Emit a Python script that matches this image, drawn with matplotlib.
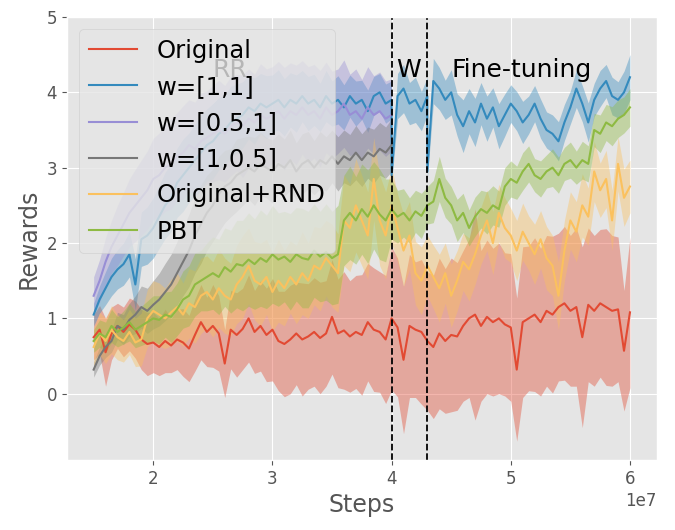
import numpy as np
import matplotlib
matplotlib.use("Agg")
import matplotlib.pyplot as plt

plt.style.use('ggplot')

# steps (x) for the runs
steps_full = np.linspace(1.5e7, 6.0e7, 91)   # whole training
steps_rr = np.linspace(1.5e7, 4.0e7, 51)     # RR phase
steps_w = np.linspace(4.0e7, 4.3e7, 7)       # W phase
steps_ft = np.linspace(4.3e7, 6.0e7, 35)     # fine-tuning

# Original
original_mean = [0.75, 0.85, 0.55, 0.80, 0.90, 0.82, 0.92, 0.85, 0.72, 0.66,
                 0.68, 0.62, 0.70, 0.64, 0.72, 0.68, 0.60, 0.78, 0.95, 0.82,
                 0.90, 0.80, 0.40, 0.85, 0.78, 0.86, 1.00, 0.82, 0.90, 0.78,
                 0.85, 0.70, 0.66, 0.72, 0.80, 0.72, 0.76, 0.82, 0.74, 0.80,
                 1.02, 0.80, 0.84, 0.76, 0.82, 0.78, 0.95, 0.85, 0.82, 0.72,
                 1.00, 0.88, 0.45, 0.90, 0.85, 0.82, 0.70, 0.62, 0.80, 0.70,
                 0.78, 0.76, 0.90, 1.00, 1.05, 0.90, 1.02, 0.95, 1.00, 0.92,
                 0.88, 0.32, 0.95, 1.00, 1.05, 0.95, 1.10, 1.05, 1.15, 1.20,
                 1.10, 1.15, 0.75, 1.18, 1.10, 1.20, 1.15, 1.10, 1.12, 0.57,
                 1.08]
original_std = [0.30, 0.32, 0.45, 0.35, 0.30, 0.33, 0.35, 0.38, 0.40, 0.42,
                0.40, 0.38, 0.42, 0.36, 0.40, 0.45, 0.44, 0.48, 0.50, 0.46,
                0.55, 0.50, 0.45, 0.52, 0.56, 0.54, 0.58, 0.55, 0.60, 0.62,
                0.68, 0.66, 0.70, 0.72, 0.68, 0.75, 0.70, 0.72, 0.74, 0.70,
                0.76, 0.72, 0.78, 0.74, 0.75, 0.80, 0.78, 0.82, 0.80, 0.85,
                0.95, 0.92, 0.98, 0.95, 0.90, 0.96, 0.92, 0.95, 1.00, 0.96,
                1.02, 0.98, 1.00, 1.05, 1.40, 1.00, 1.02, 0.98, 1.00, 0.95,
                0.98, 0.95, 1.00, 0.96, 1.02, 0.98, 1.00, 1.04, 0.98, 1.02,
                1.00, 1.05, 1.20, 1.02, 1.00, 0.98, 1.04, 1.00, 0.96, 0.80,
                1.00]

# Original+RND
rnd_mean = [0.62, 0.80, 0.70, 0.85, 0.75, 0.70, 0.82, 0.68, 0.72, 1.00,
            1.10, 1.05, 1.00, 1.08, 1.15, 1.05, 1.20, 1.15, 1.30, 1.35,
            1.25, 1.40, 1.30, 1.25, 1.45, 1.55, 1.70, 1.50, 1.45, 1.55,
            1.35, 1.50, 1.40, 1.55, 1.45, 1.60, 1.50, 1.70, 1.65, 1.80,
            1.70, 1.60, 2.30, 2.20, 2.50, 2.30, 2.10, 2.85, 2.30, 2.10,
            2.50, 2.20, 1.90, 2.10, 1.60, 1.50, 1.70, 1.55, 1.40, 1.60,
            1.30, 1.50, 1.75, 1.65, 1.85, 2.10, 2.30, 2.00, 2.40, 2.20,
            2.10, 1.90, 2.15, 2.00, 1.85, 2.05, 1.80, 1.70, 1.30, 1.90,
            2.30, 2.15, 2.50, 2.35, 2.95, 2.70, 2.85, 2.30, 3.05, 2.60,
            2.75]
rnd_std = [0.25, 0.28, 0.30, 0.32, 0.30, 0.28, 0.30, 0.32, 0.35, 0.38,
           0.40, 0.42, 0.40, 0.44, 0.45, 0.42, 0.46, 0.48, 0.50, 0.48,
           0.50, 0.52, 0.50, 0.48, 0.52, 0.55, 0.50, 0.52, 0.55, 0.50,
           0.52, 0.55, 0.50, 0.48, 0.52, 0.55, 0.50, 0.52, 0.55, 0.50,
           0.55, 0.52, 0.60, 0.58, 0.62, 0.60, 0.58, 0.55, 0.60, 0.58,
           0.50, 0.45, 0.48, 0.45, 0.42, 0.45, 0.40, 0.42, 0.45, 0.40,
           0.42, 0.40, 0.38, 0.42, 0.40, 0.38, 0.40, 0.42, 0.38, 0.40,
           0.36, 0.40, 0.38, 0.36, 0.40, 0.38, 0.42, 0.40, 0.45, 0.40,
           0.38, 0.40, 0.42, 0.38, 0.40, 0.36, 0.38, 0.40, 0.36, 0.38,
           0.35]

# PBT
pbt_mean = [0.70, 0.80, 0.75, 0.90, 0.82, 0.88, 0.95, 0.85, 0.90, 0.95,
            1.00, 0.98, 1.05, 1.02, 1.12, 1.25, 1.30, 1.45, 1.50, 1.55,
            1.60, 1.55, 1.68, 1.62, 1.72, 1.70, 1.78, 1.72, 1.80, 1.75,
            1.85, 1.78, 1.82, 1.75, 1.85, 1.80, 1.78, 1.90, 1.82, 1.88,
            1.80, 1.85, 2.30, 2.40, 2.30, 2.45, 2.35, 2.50, 2.38, 2.30,
            2.45, 2.35, 2.40, 2.30, 2.42, 2.36, 2.50, 2.55, 2.85, 2.60,
            2.50, 2.30, 2.40, 2.20, 2.35, 2.45, 2.40, 2.50, 2.45, 2.75,
            2.85, 2.80, 2.95, 3.05, 2.90, 2.85, 2.95, 3.00, 2.90, 3.05,
            3.10, 3.00, 3.10, 3.05, 3.50, 3.45, 3.60, 3.55, 3.65, 3.70,
            3.80]
pbt_std = [0.15, 0.18, 0.20, 0.22, 0.20, 0.22, 0.25, 0.24, 0.26, 0.28,
           0.30, 0.32, 0.30, 0.34, 0.35, 0.38, 0.40, 0.42, 0.40, 0.45,
           0.48, 0.50, 0.52, 0.55, 0.58, 0.60, 0.62, 0.60, 0.64, 0.62,
           0.65, 0.62, 0.60, 0.64, 0.62, 0.66, 0.64, 0.62, 0.60, 0.64,
           0.62, 0.65, 0.60, 0.62, 0.58, 0.60, 0.62, 0.58, 0.60, 0.55,
           0.40, 0.35, 0.32, 0.30, 0.28, 0.30, 0.25, 0.28, 0.30, 0.26,
           0.25, 0.28, 0.26, 0.24, 0.26, 0.25, 0.28, 0.26, 0.24, 0.25,
           0.24, 0.22, 0.25, 0.24, 0.22, 0.24, 0.22, 0.25, 0.24, 0.22,
           0.24, 0.22, 0.25, 0.24, 0.22, 0.25, 0.24, 0.26, 0.25, 0.24,
           0.25]

# w=[1,1]  (RR, W, fine-tuning)
w11_rr_mean = [1.05, 1.25, 1.40, 1.55, 1.65, 1.72, 1.85, 1.45, 2.05, 2.10,
               2.20, 2.35, 2.50, 2.60, 2.80, 2.90, 3.00, 3.10, 3.20, 3.30,
               3.35, 3.45, 3.50, 3.60, 3.65, 3.70, 3.80, 3.75, 3.85, 3.80,
               3.85, 3.90, 3.80, 3.90, 3.85, 3.95, 3.85, 3.90, 3.80, 3.95,
               3.85, 3.90, 3.80, 3.95, 3.85, 3.90, 3.75, 3.95, 4.00, 3.85,
               3.90]
w11_rr_std = [0.15, 0.18, 0.22, 0.25, 0.26, 0.28, 0.30, 0.34, 0.36, 0.38,
              0.40, 0.42, 0.44, 0.45, 0.46, 0.48, 0.46, 0.48, 0.50, 0.48,
              0.50, 0.48, 0.46, 0.48, 0.46, 0.44, 0.42, 0.44, 0.40, 0.42,
              0.38, 0.40, 0.38, 0.36, 0.38, 0.34, 0.36, 0.34, 0.32, 0.34,
              0.30, 0.32, 0.30, 0.28, 0.30, 0.26, 0.28, 0.26, 0.25, 0.26,
              0.25]
w11_w_mean = [2.90, 3.95, 4.05, 3.85, 3.90, 3.75, 3.95]
w11_w_std = [0.10, 0.30, 0.32, 0.28, 0.30, 0.26, 0.25]
w11_ft_mean = [2.95, 4.15, 4.05, 3.90, 4.00, 3.70, 3.55, 3.75, 3.60, 3.85,
               3.65, 3.80, 3.55, 3.70, 3.85, 3.75, 3.60, 3.70, 3.85, 3.65,
               3.50, 3.45, 3.35, 3.60, 3.80, 4.05, 3.85, 3.60, 3.90, 4.05,
               4.15, 3.95, 3.90, 4.00, 4.20]
w11_ft_std = [0.10, 0.30, 0.28, 0.26, 0.30, 0.28, 0.35, 0.30, 0.32, 0.28,
              0.30, 0.26, 0.30, 0.28, 0.25, 0.26, 0.28, 0.25, 0.24, 0.26,
              0.24, 0.25, 0.26, 0.24, 0.22, 0.25, 0.24, 0.26, 0.22, 0.24,
              0.22, 0.25, 0.24, 0.28, 0.30]

# w=[0.5,1]
w051_mean = [1.30, 1.50, 1.75, 1.95, 2.10, 2.25, 2.40, 2.50, 2.60, 2.70,
             2.85, 2.90, 3.00, 3.05, 3.15, 3.20, 3.30, 3.25, 3.35, 3.40,
             3.45, 3.50, 3.45, 3.55, 3.60, 3.55, 3.65, 3.60, 3.70, 3.65,
             3.70, 3.75, 3.65, 3.75, 3.70, 3.80, 3.70, 3.75, 3.65, 3.80,
             3.70, 3.75, 3.85, 3.70, 3.75, 3.65, 3.80, 3.70, 3.75, 3.65,
             3.70]
w051_std = [0.25, 0.28, 0.32, 0.35, 0.40, 0.42, 0.45, 0.48, 0.50, 0.52,
            0.54, 0.56, 0.58, 0.60, 0.58, 0.62, 0.60, 0.62, 0.64, 0.62,
            0.64, 0.66, 0.64, 0.66, 0.64, 0.68, 0.66, 0.64, 0.68, 0.66,
            0.64, 0.66, 0.68, 0.64, 0.66, 0.62, 0.64, 0.62, 0.64, 0.60,
            0.58, 0.56, 0.58, 0.54, 0.56, 0.52, 0.54, 0.52, 0.52, 0.50,
            0.48]

# w=[1,0.5]
w105_mean = [0.32, 0.50, 0.62, 0.70, 0.90, 0.85, 0.98, 1.05, 1.15, 1.10,
             1.18, 1.25, 1.35, 1.45, 1.60, 1.75, 1.90, 2.10, 2.25, 2.40,
             2.50, 2.65, 2.75, 2.80, 2.90, 2.95, 3.00, 2.95, 3.05, 3.00,
             2.95, 3.05, 3.00, 3.10, 2.95, 3.05, 3.10, 3.00, 3.10, 3.05,
             3.15, 3.05, 3.15, 3.10, 3.20, 3.10, 3.20, 3.15, 3.25, 3.20,
             3.30]
w105_std = [0.10, 0.12, 0.14, 0.15, 0.18, 0.20, 0.22, 0.25, 0.28, 0.30,
            0.32, 0.35, 0.38, 0.40, 0.42, 0.45, 0.48, 0.50, 0.52, 0.50,
            0.48, 0.50, 0.48, 0.45, 0.48, 0.45, 0.42, 0.45, 0.42, 0.40,
            0.42, 0.40, 0.38, 0.40, 0.38, 0.40, 0.38, 0.36, 0.38, 0.36,
            0.35, 0.36, 0.35, 0.34, 0.36, 0.35, 0.34, 0.36, 0.35, 0.34,
            0.35]

labels = ['Original', 'w=[1,1]', 'w=[0.5,1]', 'w=[1,0.5]', 'Original+RND', 'PBT']
phase_lines = [4.0e7, 4.3e7]

fig = plt.figure(figsize=(6.75, 5.3), dpi=100)
ax = fig.add_axes([0.099, 0.132, 0.874, 0.836])

colors = plt.rcParams['axes.prop_cycle'].by_key()['color']

w11_x = np.concatenate([steps_rr, steps_w, steps_ft])
w11_mean = np.concatenate([w11_rr_mean, w11_w_mean, w11_ft_mean])
w11_std = np.concatenate([w11_rr_std, w11_w_std, w11_ft_std])

series = [
    (steps_full, original_mean, original_std),
    (w11_x, w11_mean, w11_std),
    (steps_rr, w051_mean, w051_std),
    (steps_rr, w105_mean, w105_std),
    (steps_full, rnd_mean, rnd_std),
    (steps_full, pbt_mean, pbt_std),
]

for (x, m, s), lab, c in zip(series, labels, colors):
    m = np.asarray(m)
    s = np.asarray(s)
    ax.plot(x, m, color=c, lw=1.5, label=lab)
    ax.fill_between(x, m - s, m + s, color=c, alpha=0.4, lw=0)

for xv in phase_lines:
    ax.axvline(xv, color='k', ls='--', lw=1.3)

ax.text(2.5e7, 4.2, 'RR', fontsize=18)
ax.text(4.04e7, 4.2, 'W', fontsize=18)
ax.text(4.5e7, 4.2, 'Fine-tuning', fontsize=18)

ax.set_ylim(-0.88, 5.0)
ax.set_xlabel('Steps', fontsize=17)
ax.set_ylabel('Rewards', fontsize=17)
ax.tick_params(labelsize=12)
ax.xaxis.get_offset_text().set_fontsize(12)

ax.legend(loc='upper left', fontsize=17.5)

fig.savefig('out.png', dpi=100)
